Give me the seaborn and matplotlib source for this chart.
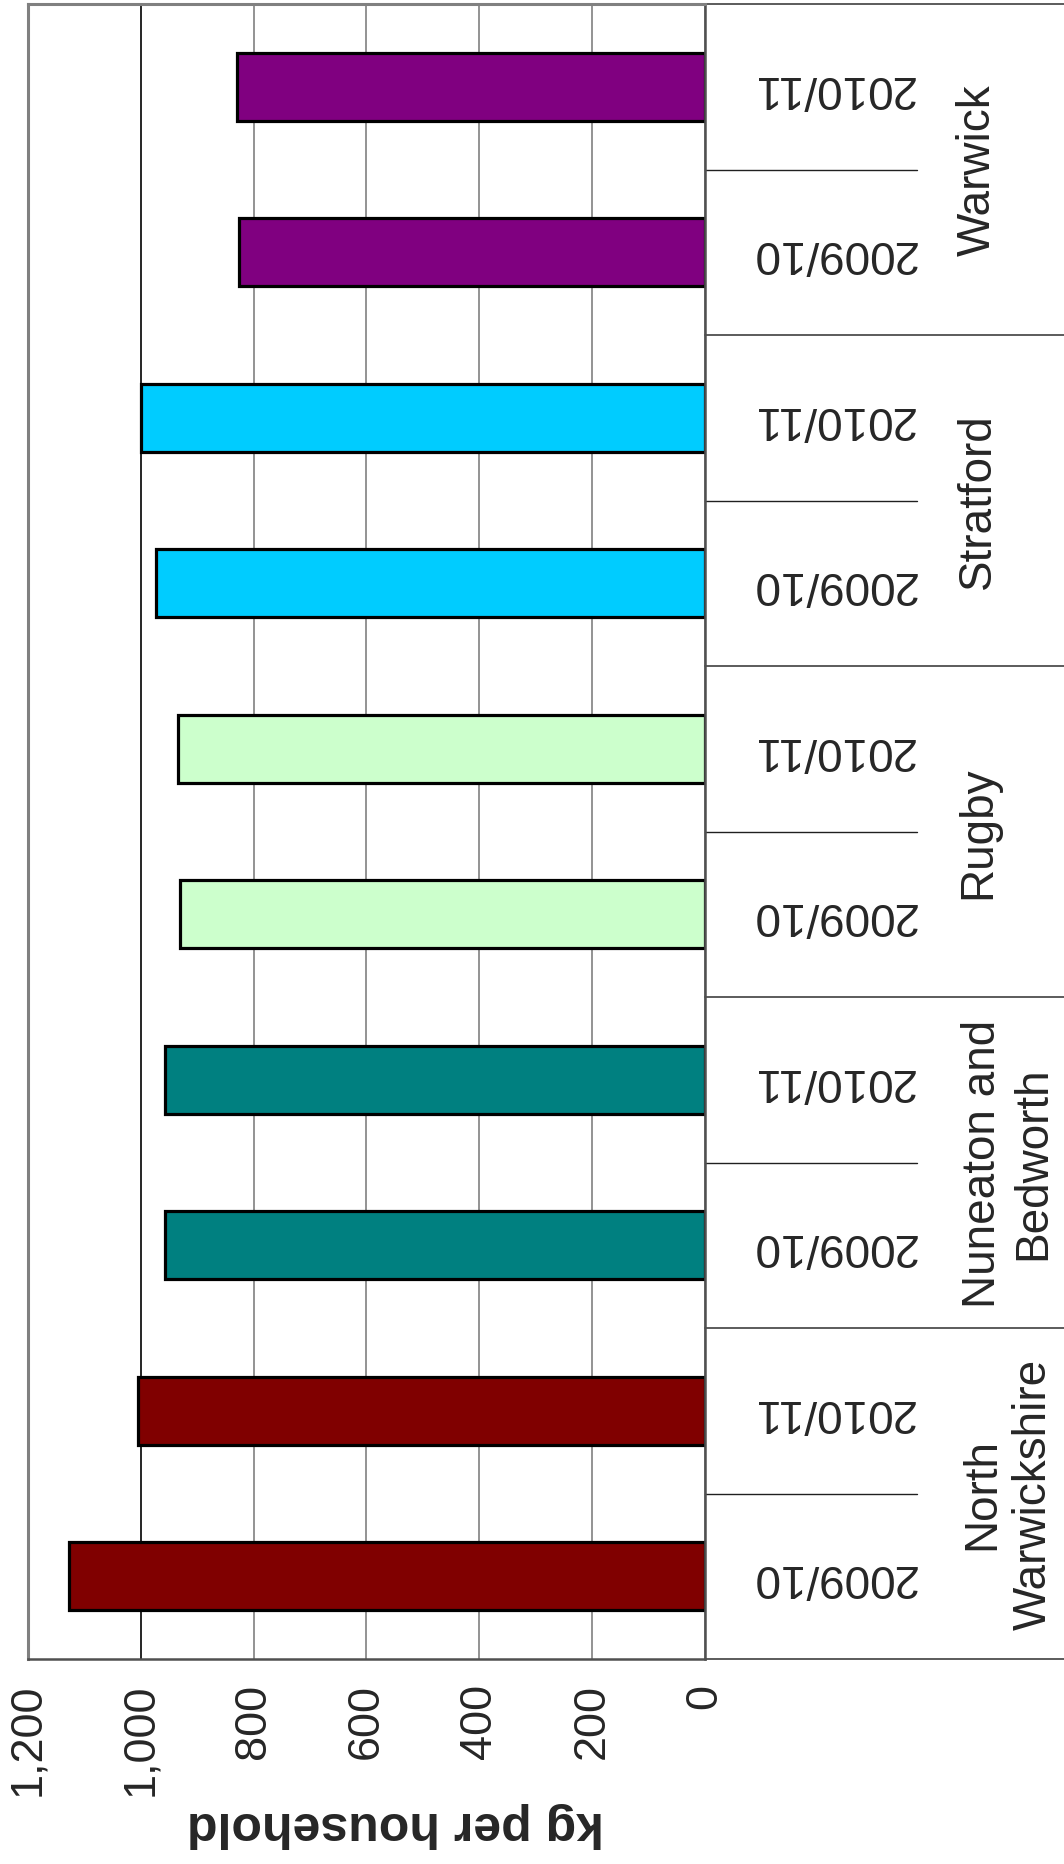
import numpy as np
import pandas as pd
import matplotlib
matplotlib.use("Agg")
import matplotlib.pyplot as plt
import matplotlib.transforms as mtransforms
from matplotlib.ticker import FuncFormatter
import seaborn as sns

# data (kg per household)
districts = ["North\nWarwickshire", "Nuneaton and\nBedworth", "Rugby", "Stratford", "Warwick"]
years = ["2009/10", "2010/11"]
kg_2009 = [1127, 957, 931, 973, 826]
kg_2010 = [1005, 957, 935, 999, 830]
colours = ["#800000", "#008080", "#CCFFCC", "#00CCFF", "#800080"]
value_ticks = [0, 200, 400, 600, 800, 1000, 1200]

rows = []
for d, a, b in zip(districts, kg_2009, kg_2010):
    rows.append({"district": d, "year": years[0], "kg": a})
    rows.append({"district": d, "year": years[1], "kg": b})
df = pd.DataFrame(rows)
df["slot"] = df["district"] + " " + df["year"]
order = list(df["slot"])[::-1]   # first district at the bottom

sns.set_style("white")
plt.rcParams["font.family"] = ["Liberation Sans", "DejaVu Sans"]

W, H = 1064, 1865
fig = plt.figure(figsize=(W / 100, H / 100), dpi=100)
ax = fig.add_axes([28 / W, 1 - 1660 / H, (705 - 28) / W, (1660 - 5) / H])
ax.set_axisbelow(True)

sns.barplot(data=df, x="kg", y="slot", hue="district", order=order,
            palette=dict(zip(districts, colours)), saturation=1, dodge=False, width=0.41,
            edgecolor="black", linewidth=2.3, legend=False, ax=ax)

ax.set_xlim(1200, 0)
ax.set_ylim(len(order) - 0.5, -0.5)
ax.set_xticks(value_ticks)
ax.xaxis.set_major_formatter(FuncFormatter(lambda v, p: f"{v:,.0f}"))
ax.tick_params(axis="x", direction="out", length=11, width=1.5, color="#606060",
               pad=6, labelsize=32.5, labelrotation=90)
ax.set_yticks([])
ax.set_xlabel("")
ax.set_ylabel("")

ax.grid(axis="x", color="#808080", lw=1.2)
for loc, gl in zip(ax.get_xticks(), ax.get_xgridlines()):
    if loc == 1000:
        gl.set_color("black")

for side in ["left", "top"]:
    ax.spines[side].set_color("#808080")
    ax.spines[side].set_linewidth(2.2)
for side in ["right", "bottom"]:
    ax.spines[side].set_color("#505050")
    ax.spines[side].set_linewidth(1.8)

trans = mtransforms.blended_transform_factory(ax.transAxes, ax.transData)
def ax_px(x):
    return (x - 28) / 677

# year labels (upside down, as in the source)
for i, slot in enumerate(order):
    ax.text(ax_px(833), i, slot.split(" ")[-1], rotation=180, ha="center", va="center",
            fontsize=33, transform=trans, clip_on=False)

# district labels
for d in districts:
    idx = [i for i, s in enumerate(order) if s.startswith(d + " ")]
    nlines = d.count("\n") + 1
    ax.text(ax_px(978 + 30 * (nlines - 1)), np.mean(idx), d, rotation=90,
            ha="center", va="center", multialignment="center", linespacing=1.2,
            fontsize=33, transform=trans, clip_on=False)

# category separators
n = len(order)
for b in np.arange(-0.5, n, 2):
    ax.plot([1, ax_px(1064)], [b, b], transform=trans, color="#404040", lw=1.2, clip_on=False)
for b in np.arange(0.5, n - 1, 2):
    ax.plot([1, ax_px(917)], [b, b], transform=trans, color="#202020", lw=1.0, clip_on=False)

fig.text(395 / W, 1 - 1825 / H, "kg per household", rotation=180, fontweight="bold",
         fontsize=36, ha="center", va="center")

fig.savefig("out.png", dpi=100)
